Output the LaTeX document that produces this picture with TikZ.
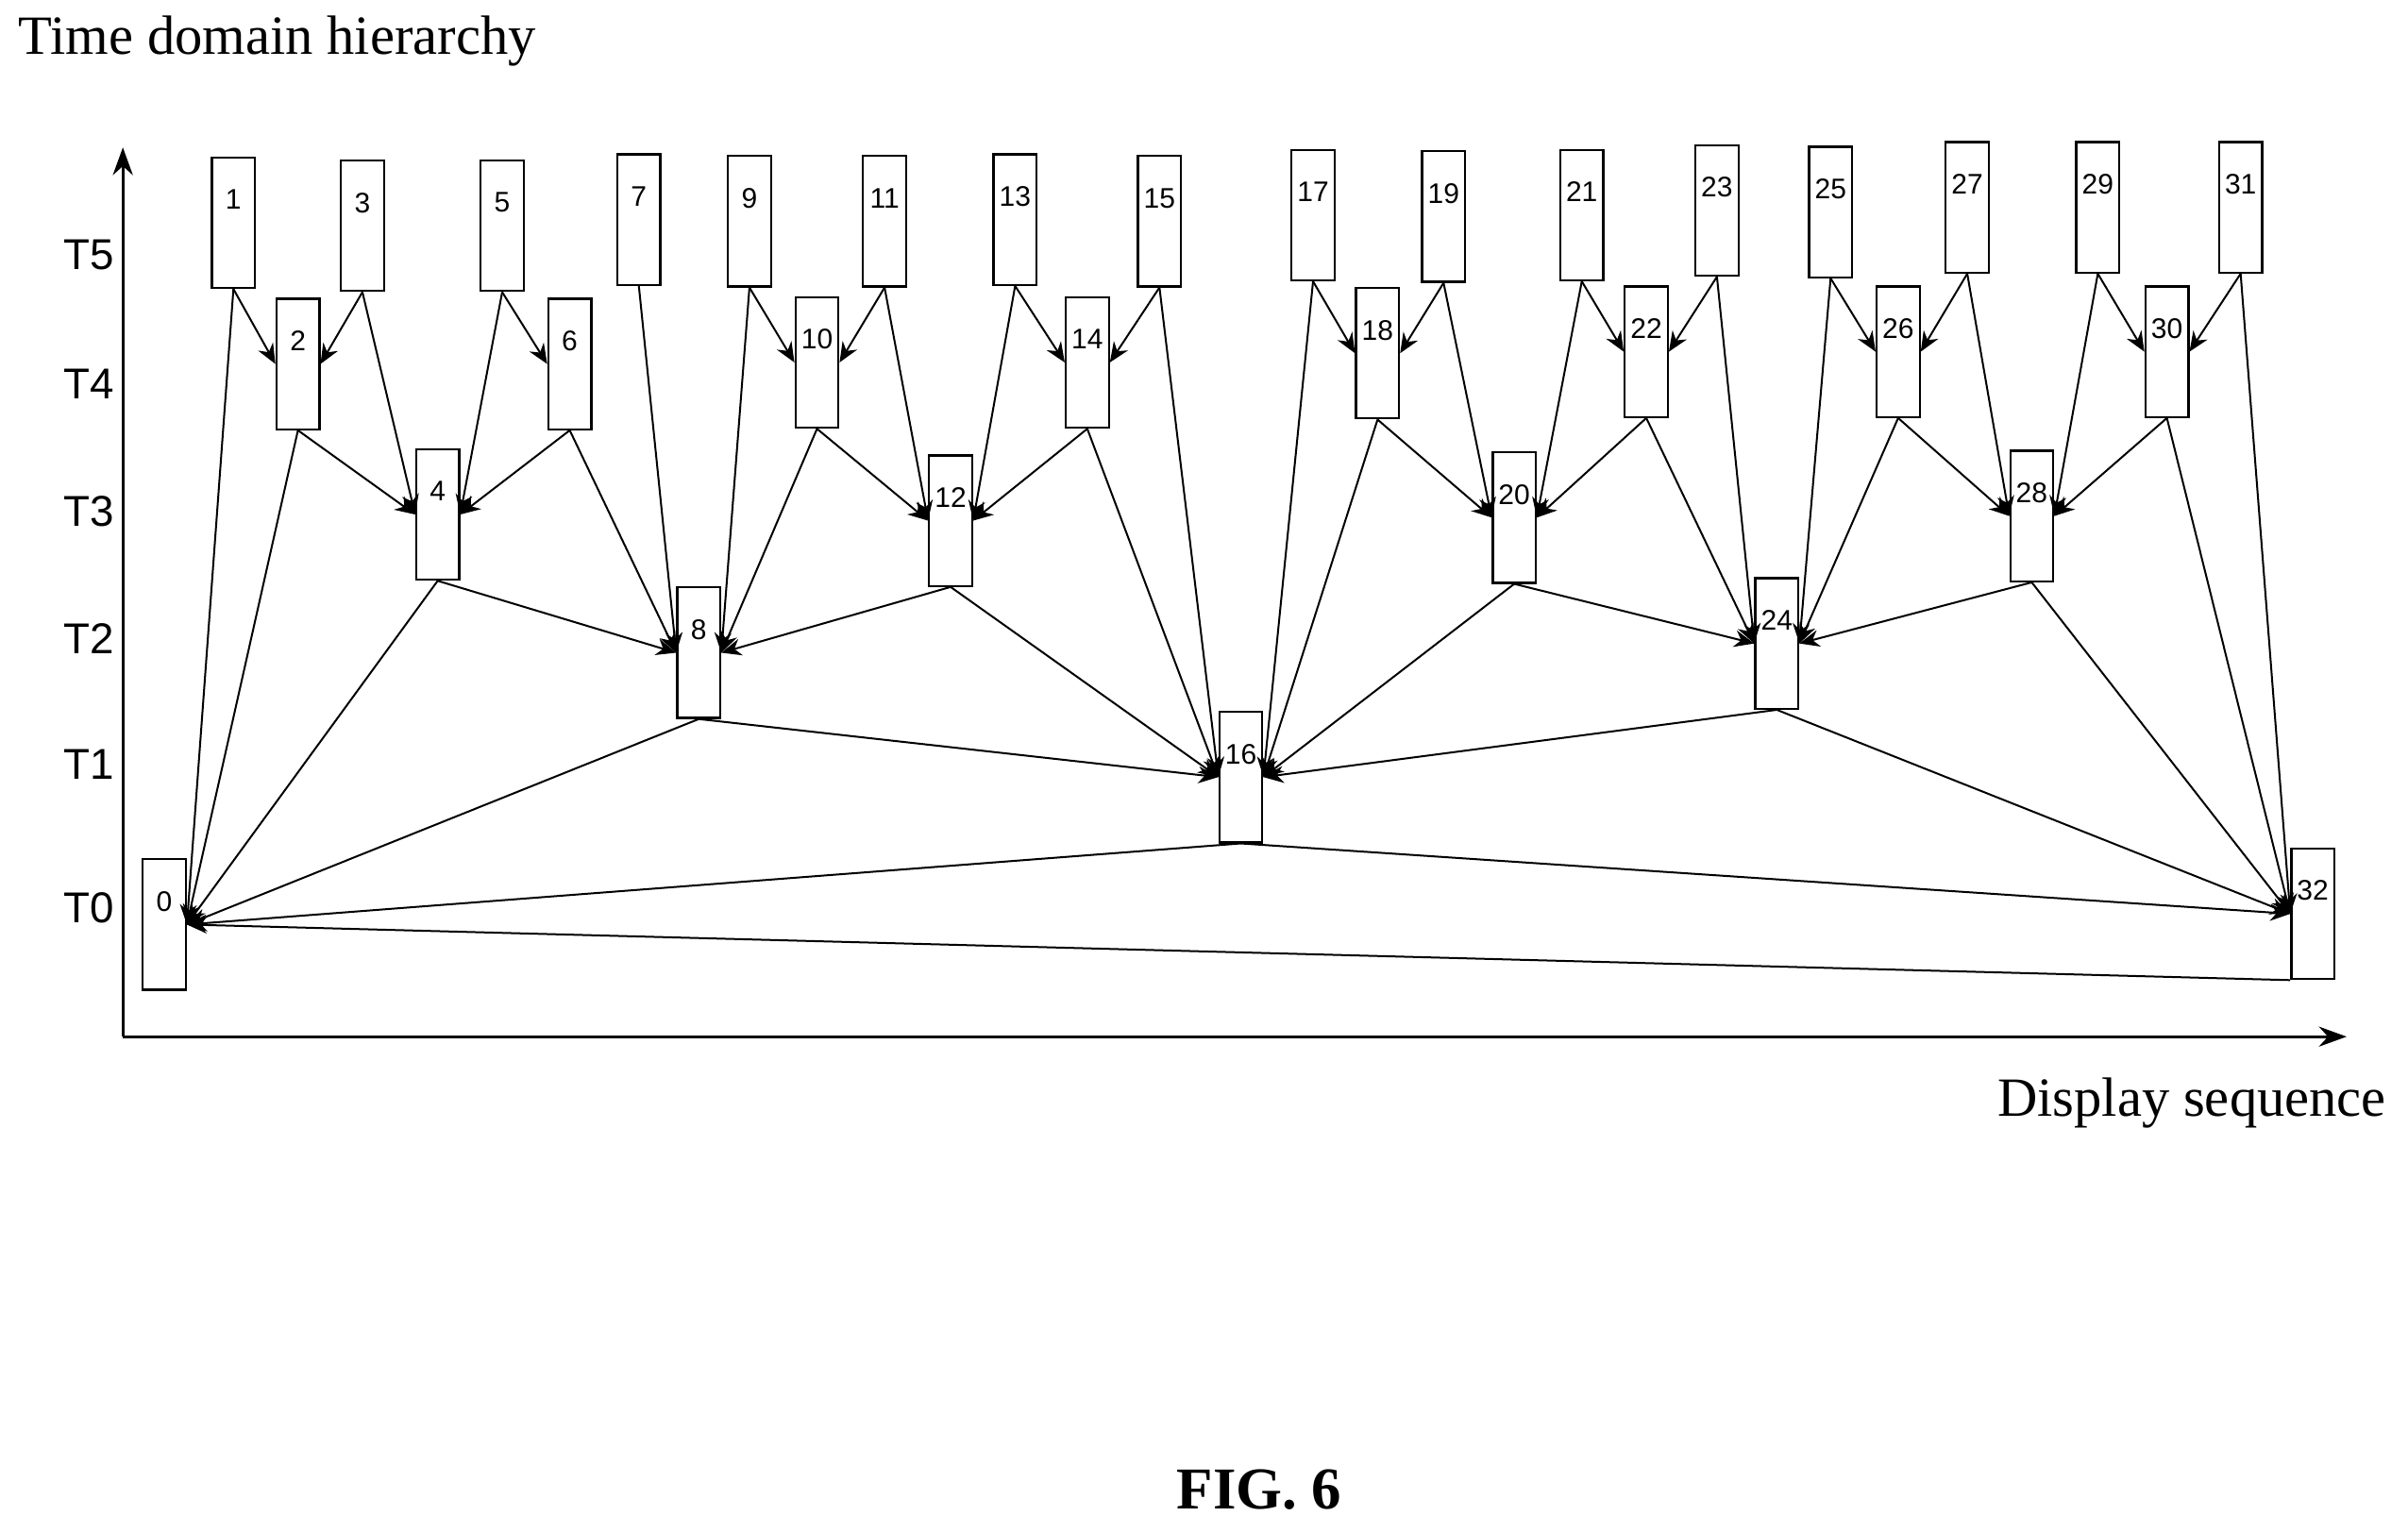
\documentclass[tikz,border=0pt]{standalone}
\usepackage{fontspec}
\setmainfont{Liberation Serif}
\setsansfont{Liberation Sans}
\usetikzlibrary{arrows.meta}
\begin{document}
\begin{tikzpicture}[
    x=0.02cm, y=-0.02cm,
    frame/.style={rectangle, draw=black, line width=0.8pt, minimum width=0.56cm, minimum height=1.7cm, inner sep=0pt, fill=white},
    num/.style={font=\sffamily\fontsize{10.5}{12}\selectfont, yshift=0.3cm},
    level/.style={font=\sffamily\fontsize{16}{18}\selectfont},
    ref/.style={-{Stealth[length=2.6mm,width=2.2mm]}, line width=0.7pt},
    axis/.style={-{Stealth[length=3.6mm,width=2.6mm]}, line width=1pt}
]
\useasboundingbox (0,0) rectangle (1568,998);

% Axes
\coordinate (origin) at (80,675);
\coordinate (ytop) at (80,96);
\coordinate (xend) at (1528,675);
\draw[axis] (origin) -- (ytop);
\draw[axis] (origin) -- (xend);
\node[anchor=west, font=\fontsize{20.5}{24}\selectfont] (ytitle) at (6,27) {Time domain hierarchy};
\node[anchor=east, font=\fontsize{20.5}{24}\selectfont] (xtitle) at (1560,718) {Display sequence};
\node[font=\bfseries\fontsize{22}{26}\selectfont] (fig) at (820,970) {FIG. 6};

% Levels
\foreach \t/\y in {5/166, 4/250, 3/333, 2/416, 1/498, 0/591}
  \node[level] (T\t) at (58,\y) {T\t};

% Frames
\foreach \n/\x/\y in {0/107/602, 1/152/145, 2/194/237, 3/236/147, 4/285/335,
    5/327/147, 6/371/237, 7/416/143, 8/455/425, 9/488/144, 10/532/236,
    11/576/144, 12/619/339, 13/661/143, 14/708/236, 15/755/144, 16/808/506,
    17/855/140, 18/897/230, 19/940/141, 20/986/337, 21/1030/140, 22/1072/229,
    23/1118/137, 24/1157/419, 25/1192/138, 26/1236/229, 27/1281/135,
    28/1323/336, 29/1366/135, 30/1411/229, 31/1459/135, 32/1506/595}
  \node[frame, label={[num]center:\n}] (f\n) at (\x,\y) {};

% References
\foreach \s/\t in {1/0, 1/2, 3/2, 3/4, 2/0, 2/4, 5/4, 5/6, 6/4, 6/8, 7/8,
    4/0, 4/8, 9/8, 9/10, 11/10, 11/12, 10/8, 10/12, 13/12, 13/14, 15/14,
    15/16, 14/12, 14/16, 12/8, 12/16, 8/0, 8/16, 16/0, 16/32, 17/16, 17/18,
    19/18, 19/20, 18/16, 18/20, 21/20, 21/22, 23/22, 23/24, 22/20, 22/24,
    20/16, 20/24, 25/24, 25/26, 27/26, 27/28, 26/24, 26/28, 29/28, 29/30,
    31/30, 31/32, 30/28, 30/32, 28/24, 28/32, 24/16, 24/32}
{
  \ifnum\s<\t \def\side{west}\else\def\side{east}\fi
  \draw[ref] (f\s.south) -- (f\t.\side);
}
\draw[ref] (f32.south west) -- (f0.east);

\end{tikzpicture}
\end{document}
